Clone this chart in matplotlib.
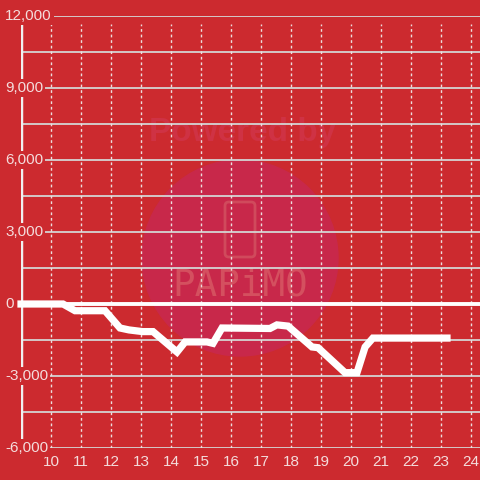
import matplotlib.pyplot as plt
from matplotlib import transforms
from matplotlib.patches import Circle, FancyBboxPatch

# hours of the day vs. running balance
hours = [9.0, 10.4, 10.8, 11.8, 12.3, 12.6, 13.05, 13.4, 14.2, 14.47, 15.2, 15.4,
         15.7, 17.3, 17.53, 17.9, 18.7, 18.9, 19.8, 20.2, 20.47, 20.73, 23.2]
balance = [0, 0, -280, -280, -1000, -1080, -1150, -1150, -2000, -1580, -1580, -1640,
           -1000, -1020, -870, -920, -1790, -1820, -2860, -2860, -1790, -1420, -1420]

xticks = list(range(10, 25))
yticks = [-6000, -3000, 0, 3000, 6000, 9000, 12000]
ygrid = list(range(-6000, 12001, 1500))

bg = '#cc2a2f'
txt = '#f4dcdc'
plt.rcParams['font.family'] = ['Liberation Sans', 'DejaVu Sans']

fig = plt.figure(figsize=(4.8, 4.8), dpi=100, facecolor=bg)
ax = fig.add_axes([21 / 480, 32 / 480, 459 / 480, 432 / 480], facecolor=bg)
ft = fig.transFigure

# watermark behind the grid
ax.add_patch(Circle((240 / 480, 1 - 258 / 480), 98 / 480, transform=ft,
                    color='#c8284a', zorder=0.5, clip_on=False))
ax.add_patch(FancyBboxPatch((225 / 480, 1 - 257 / 480), 30 / 480, 55 / 480,
                            boxstyle='round,pad=0,rounding_size=0.008', transform=ft,
                            fill=False, ec='#d04a5c', lw=2, zorder=0.6, clip_on=False))
ax.text(243 / 480, 1 - 133 / 480, 'Powered by', transform=ft, ha='center', va='center',
        fontsize=24, fontweight='bold', color='#cf3244', zorder=0.6)
ax.text(240 / 480, 1 - 286 / 480, 'PAPiMO', transform=ft, ha='center', va='center',
        fontsize=27, color='#d4505f', zorder=0.6, family='DejaVu Sans Mono')

ax.set_xlim(9.0, 24.3)
ax.set_ylim(-6000, 12000)

for y in ygrid:
    ax.axhline(y, color='#d4d4d4', lw=1.3, zorder=1)
ax.vlines(xticks, -6000, 11667, colors='#ecdede', lw=1, linestyles=(0, (2, 2)), zorder=1)
ax.axhline(0, color='white', lw=2.8, zorder=2)
ax.axvline(9.0, ymax=(11667 + 6000) / 18000, color='#f0f0f0', lw=2.5, zorder=2)

ax.plot(hours, balance, color='white', lw=5.2, solid_capstyle='projecting',
        solid_joinstyle='miter', zorder=3, clip_on=False)

for s in ax.spines.values():
    s.set_visible(False)
ax.set_xticks(xticks)
ax.set_xticklabels([str(h) for h in xticks])
ax.tick_params(axis='x', length=0, pad=5, labelsize=11, labelcolor=txt)
ax.set_yticks([])

tr = transforms.blended_transform_factory(ft, ax.transData)
for y in yticks:
    ax.text(5 / 480, y, f'{y:,}', transform=tr, ha='left', va='center', fontsize=11,
            color=txt, zorder=5, clip_on=False,
            bbox=dict(fc=bg, ec='none', pad=1.5))

fig.savefig('out.png', dpi=100, facecolor=bg)
